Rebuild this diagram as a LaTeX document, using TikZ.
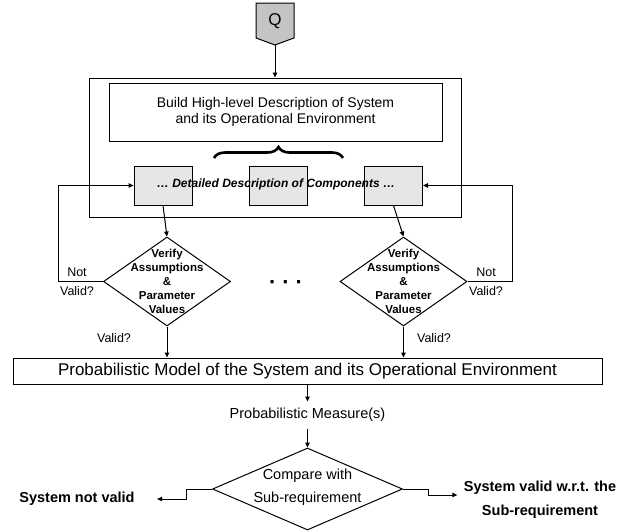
\documentclass[tikz,border=0pt]{standalone}
\usepackage{fontspec}
\setmainfont{Liberation Sans}
\usetikzlibrary{arrows.meta,positioning,shapes.geometric,decorations.pathreplacing}

\definecolor{qgray}{RGB}{196,196,196}
\definecolor{compgray}{RGB}{230,230,230}
\newcommand{\fsz}[2]{\fontsize{#1}{#2}\selectfont}

\begin{document}
\begin{tikzpicture}[
  x=1pt, y=-1pt, line width=1pt,
  box/.style={draw, align=center, inner sep=0pt},
  comp/.style={draw, fill=compgray, minimum width=58pt, minimum height=39pt, inner sep=0pt},
  dia/.style={draw, diamond, inner sep=0pt},
  arr/.style={-{Triangle[length=5pt, width=4.5pt]}},
  dtxt/.style={align=center, inner sep=0pt, font=\fsz{11.5}{14}\bfseries},
  lab/.style={align=center, inner sep=0pt, font=\fsz{12.5}{19}},
  res/.style={align=center, inner sep=0pt, font=\fsz{14.5}{24}\bfseries}
]
\useasboundingbox (0,0) rectangle (627,531);

% Query pentagon (top)
\draw[fill=qgray] (256,3) -- (294,3) -- (294,38) -- (275,45) -- (256,38) -- cycle;
\node[font=\fsz{17}{20}] (q) at (275,21) {Q};
\coordinate (qtip) at (275,45);

% System description block
\node[box, minimum width=372pt, minimum height=139pt] (outer) at (275,147.5) {};
\draw[arr] (qtip) -- (outer.north);
\node[box, minimum width=333pt, minimum height=58pt, font=\fsz{14}{16}] (build) at (275.5,112)
  {Build High-level Description of System\\and its Operational Environment};
\draw[decorate, decoration={brace, amplitude=11pt}, line width=2.6pt] (214,158) -- (343,158);
\node[comp] (comp1) at (163,185.5) {};
\node[comp] (comp2) at (278,185.5) {};
\node[comp] (comp3) at (393.5,185.5) {};
\node[font=\fsz{12}{14}\bfseries\itshape, inner sep=0pt] (detail) at (276,184)
  {\dots\ Detailed Description of Components \dots};

% Verification diamonds
\node[dia, minimum width=127pt, minimum height=89pt] (v1) at (167,281.5) {};
\node[dtxt] at (v1) {Verify\\Assumptions\\\&\\Parameter\\Values};
\node[dia, minimum width=127pt, minimum height=89pt] (v2) at (403.5,281.5) {};
\node[dtxt] at (v2) {Verify\\Assumptions\\\&\\Parameter\\Values};
\node[font=\fsz{22}{22}\bfseries] (dots) at (286,285) {·\hspace{6pt}·\hspace{6pt}·};
\draw[arr] (comp1.south) -- (v1.north);
\draw[arr] (comp3.south) -- (v2.north);
\draw[arr] (v1.west) -- ++(-45,0) |- (comp1.west);
\draw[arr] (v2.east) -- ++(45,0) |- (comp3.east);
\node[lab] (nv1) at (77,282) {Not\\Valid?};
\node[lab] (nv2) at (486,282) {Not\\Valid?};

% Probabilistic model
\node[box, minimum width=589pt, minimum height=26pt, font=\fsz{17}{20}] (model) at (307.5,371)
  {Probabilistic Model of the System and its Operational Environment};
\draw[arr] (v1.south) -- (v1.south |- model.north);
\draw[arr] (v2.south) -- (v2.south |- model.north);
\node[lab] (ok1) at (114,338) {Valid?};
\node[lab] (ok2) at (434,338) {Valid?};
\node[minimum height=26pt, inner sep=0pt, font=\fsz{14.5}{17}] (measure) at (307.5,415)
  {Probabilistic Measure(s)};
\draw[arr] (model.south) -- (measure.north);

% Comparison
\node[dia, minimum width=190pt, minimum height=82pt] (cmp) at (307.5,489) {};
\node[align=center, inner sep=0pt, font=\fsz{14.5}{23}] at ([yshift=2pt]cmp.center) {Compare with\\Sub-requirement};
\draw[arr] (measure.south) -- (cmp.north);
\node[res] (notok) at (77,499) {System not valid};
\node[res] (isok) at (540,500) {System valid w.r.t. the\\Sub-requirement};
\draw[arr] (cmp.west) -- ++(-26,0) |- ([xshift=22pt]notok.east);
\draw[arr] (cmp.east) -- ++(25,0) |- ([xshift=-6pt]isok.west |- 0,495);

\end{tikzpicture}
\end{document}
